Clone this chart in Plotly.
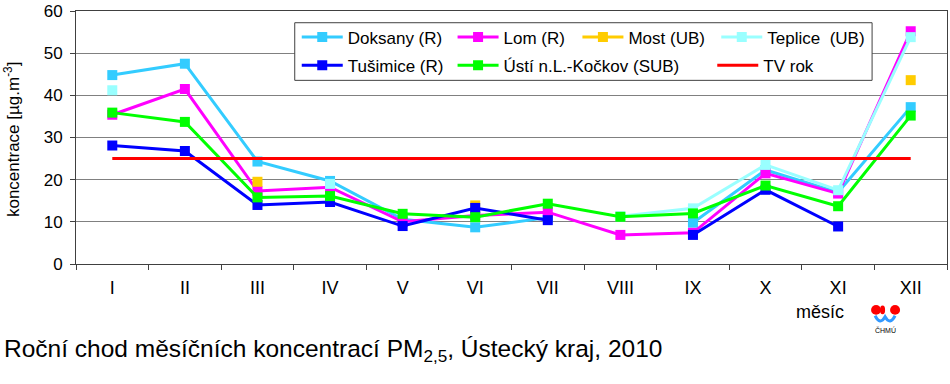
import plotly.graph_objects as go

months = ["I", "II", "III", "IV", "V", "VI", "VII", "VIII", "IX", "X", "XI", "XII"]
doksany = [44.8, 47.5, 24.3, 19.7, 10.6, 8.7, 11.0, None, 9.8, 22.3, 17.0, 37.2]
lom = [35.4, 41.5, 17.3, 18.2, 10.0, 11.5, 12.3, 6.9, 7.4, 21.5, 16.7, 55.2]
most = [None, None, 19.5, None, None, 13.9, None, None, None, None, None, 43.6]
teplice = [41.2, None, None, 19.0, None, None, None, 11.3, 13.2, 23.5, 17.5, 53.8]
tusimice = [28.1, 26.8, 14.0, 14.7, 9.0, 13.3, 10.4, None, 6.9, 17.6, 8.9, None]
usti = [35.9, 33.7, 15.8, 16.1, 11.9, 11.1, 14.3, 11.2, 12.0, 18.6, 13.7, 35.2]
tv_rok = [25, 25, 25, 25, 25, 25, 25, 25, 25, 25, 25, 25]

W, H = 950, 384
L, R, T, B = 76, 2, 5, 120
PW, PH = W - L - R, H - T - B


def px(x):
    return (x - L) / PW


def py(y):
    return (H - B - y) / PH


FONT = "Liberation Sans, Arial, sans-serif"

series = [
    ("Doksany (R)", doksany, "#33CCFF", "legend", 302, 32),
    ("Lom (R)", lom, "#FF00FF", "legend2", 458, 32),
    ("Most (UB)", most, "#FFCC00", "legend3", 583, 32),
    ("Teplice  (UB)", teplice, "#99FFFF", "legend4", 722, 32),
    ("Tušimice (R)", tusimice, "#0000FF", "legend5", 302, 61),
    ("Ústí n.L.-Kočkov (SUB)", usti, "#00FF00", "legend6", 458, 61),
]

fig = go.Figure()
layout_legends = {}
for name, vals, col, lg, lx, ly in series:
    fig.add_trace(go.Scatter(
        x=months, y=vals, name=name, mode="lines+markers",
        line=dict(color=col, width=3),
        marker=dict(symbol="square", size=10, color=col),
        connectgaps=False, legend=lg, cliponaxis=False, showlegend=True,
    ))
    layout_legends[lg] = (lx, ly)

fig.add_trace(go.Scatter(
    x=months, y=tv_rok, name="TV rok", mode="lines",
    line=dict(color="#FF0000", width=3), legend="legend7", showlegend=True,
))
layout_legends["legend7"] = (718, 61)

for lg, (lx, ly) in layout_legends.items():
    fig.update_layout({lg: dict(
        x=px(lx - 5), y=py(ly), xanchor="left", yanchor="middle",
        orientation="h", bgcolor="rgba(0,0,0,0)", borderwidth=0,
        font=dict(family=FONT, size=17, color="#000"), itemwidth=41,
    )})

shapes = [
    dict(type="rect", xref="paper", yref="paper", x0=px(295), x1=px(873),
         y0=py(17), y1=py(76), line=dict(color="#404040", width=1),
         fillcolor="white", layer="above"),
    # logo
    dict(type="circle", xref="paper", yref="paper", x0=px(872), x1=px(882),
         y0=py(306), y1=py(316), fillcolor="#FF0000", line=dict(width=0)),
    dict(type="circle", xref="paper", yref="paper", x0=px(881), x1=px(886),
         y0=py(306.5), y1=py(315.5), fillcolor="#FF0000", line=dict(width=0)),
    dict(type="circle", xref="paper", yref="paper", x0=px(891), x1=px(901),
         y0=py(306), y1=py(316), fillcolor="#FF0000", line=dict(width=0)),
    dict(type="path", xref="paper", yref="paper",
         path=(f"M{px(876)},{py(317)} Q{px(881)},{py(327)} {px(886)},{py(318)} "
               f"Q{px(891)},{py(327)} {px(896)},{py(317)}"),
         line=dict(color="#3399FF", width=3)),
]

annotations = [
    dict(text="koncentrace [µg.m<sup>-3</sup>]", x=px(12), y=py(136),
         xref="paper", yref="paper", textangle=-90, showarrow=False,
         font=dict(family=FONT, size=17, color="#000"),
         xanchor="center", yanchor="middle"),
    dict(text="měsíc", x=px(821), y=py(313), xref="paper", yref="paper",
         showarrow=False, font=dict(family=FONT, size=18, color="#000"),
         xanchor="center", yanchor="middle"),
    dict(text="ČHMÚ", x=px(886.5), y=py(332), xref="paper", yref="paper",
         showarrow=False, font=dict(family=FONT, size=7, color="#000"),
         xanchor="center", yanchor="middle"),
    dict(text="Roční chod měsíčních koncentrací PM<sub>2,5</sub>, Ústecký kraj, 2010",
         x=px(2), y=py(353), xref="paper", yref="paper", showarrow=False,
         font=dict(family=FONT, size=24.5, color="#000"),
         xanchor="left", yanchor="middle"),
]

fig.update_layout(
    width=W, height=H,
    margin=dict(l=L, r=R, t=T, b=B),
    paper_bgcolor="white", plot_bgcolor="white",
    shapes=shapes, annotations=annotations,
    font=dict(family=FONT, size=16, color="#000"),
    xaxis=dict(
        type="category", range=[-0.5, 11.5], tickson="boundaries",
        ticks="outside", ticklen=5, tickcolor="#404040",
        showline=True, linecolor="#404040", linewidth=1, mirror=True,
        showgrid=False, tickfont=dict(family=FONT, size=18, color="#000"),
        ticklabelstandoff=7,
    ),
    yaxis=dict(
        range=[0, 60], dtick=10, ticks="outside", ticklen=5,
        tickcolor="#404040", showline=True, linecolor="#404040", linewidth=1,
        mirror=True, showgrid=True, gridcolor="#808080", gridwidth=1,
        zeroline=False, tickfont=dict(family=FONT, size=17, color="#000"),
        ticklabelstandoff=4, ticklabeloverflow="allow",
    ),
)

fig.write_html("out.html", config={"displayModeBar": False},
               post_script="document.body.style.margin='0';")
